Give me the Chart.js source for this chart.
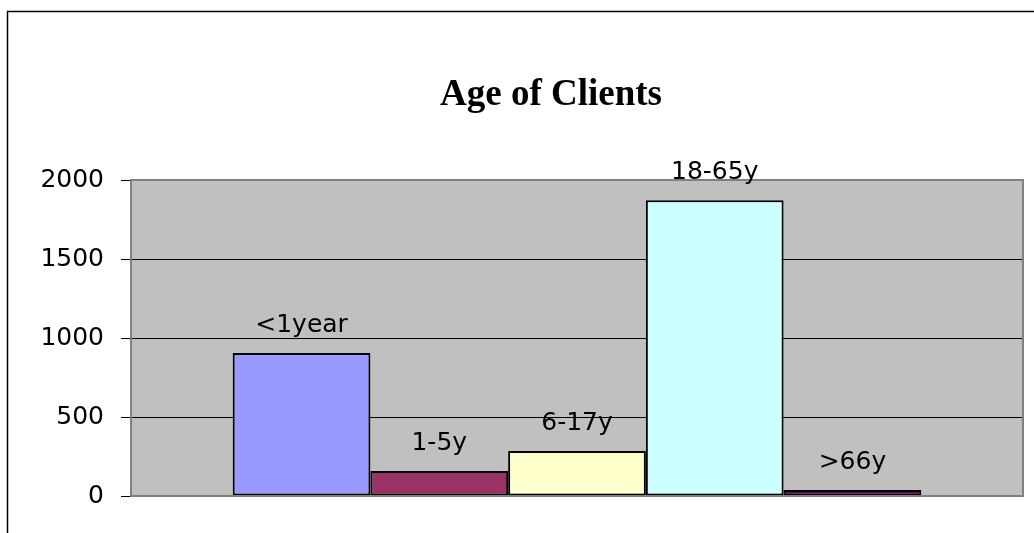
<!DOCTYPE html>
<html>
<head>
<meta charset="utf-8">
<script src="https://cdn.jsdelivr.net/npm/chart.js@4/dist/chart.umd.min.js"></script>
<style>
  html, body { margin: 0; padding: 0; background: #fff; }
  #wrap { width: 1034px; height: 533px; position: relative; }
</style>
</head>
<body>
<div id="wrap"><canvas id="barChart" width="1034" height="533"></canvas></div>
<script>
"use strict";

const ageGroups = ["<1year", "1-5y", "6-17y", "18-65y", ">66y"];
const clientCounts = [905, 158, 285, 1872, 38];
const barColors = ["#9999FF", "#993366", "#FFFFCC", "#CCFFFF", "#660066"];
const yTicks = [0, 500, 1000, 1500, 2000];

const labelFont = "25px 'DejaVu Sans'";

// grey plot background + frame, outer border, title, bar labels
const decor = {
  id: "decor",
  beforeDraw(chart) {
    const { ctx, chartArea: a } = chart;
    ctx.save();
    ctx.fillStyle = "#C0C0C0";
    ctx.fillRect(a.left, a.top, a.right - a.left, a.bottom - a.top);
    ctx.restore();
  },
  afterDraw(chart) {
    const { ctx, chartArea: a } = chart;
    ctx.save();
    // plot frame
    ctx.strokeStyle = "#808080";
    ctx.lineWidth = 2;
    ctx.strokeRect(a.left, a.top, a.right - a.left, a.bottom - a.top);

    // outer chart border (left + top only visible)
    ctx.strokeStyle = "#000";
    ctx.lineWidth = 1.5;
    ctx.beginPath();
    ctx.moveTo(7.5, 533);
    ctx.lineTo(7.5, 11.5);
    ctx.lineTo(1034, 11.5);
    ctx.stroke();

    // title
    ctx.fillStyle = "#000";
    ctx.font = "bold 37px 'Liberation Serif'";
    ctx.textAlign = "center";
    ctx.textBaseline = "alphabetic";
    ctx.fillText("Age of Clients", 551, 105);

    // labels over bars
    ctx.font = labelFont;
    chart.data.datasets.forEach((ds, i) => {
      const bar = chart.getDatasetMeta(i).data[0];
      ctx.fillText(ds.label, bar.x, bar.y - 21);
    });
    ctx.restore();
  },
};

const datasets = ageGroups.map((g, i) => ({
  label: g,
  data: [clientCounts[i]],
  backgroundColor: barColors[i],
  borderColor: "#000",
  borderWidth: 2,
  borderSkipped: false,
}));

new Chart(document.getElementById("barChart").getContext("2d"), {
  type: "bar",
  data: { labels: [""], datasets: datasets },
  options: {
    responsive: false,
    animation: false,
    layout: { padding: { left: 0, top: 180, right: 11, bottom: 37 } },
    categoryPercentage: 0.772,
    barPercentage: 1.0,
    plugins: {
      legend: { display: false },
      title: { display: false },
      tooltip: { enabled: false },
    },
    scales: {
      x: { display: false },
      y: {
        min: 0,
        max: 2000,
        afterBuildTicks: (scale) => {
          scale.ticks = yTicks.map((v) => ({ value: v }));
        },
        afterFit: (scale) => {
          scale.width = 131;
        },
        border: { display: false },
        grid: {
          color: (c) => (c.tick && (c.tick.value === 0 || c.tick.value === 2000) ? "#808080" : "#000"),
          tickColor: "#000",
          tickLength: 10,
          lineWidth: 1,
        },
        ticks: {
          padding: 17,
          color: "#000",
          font: { family: "DejaVu Sans", size: 25 },
          callback: (v) => String(v),
        },
      },
    },
  },
  plugins: [decor],
});
</script>
</body>
</html>
